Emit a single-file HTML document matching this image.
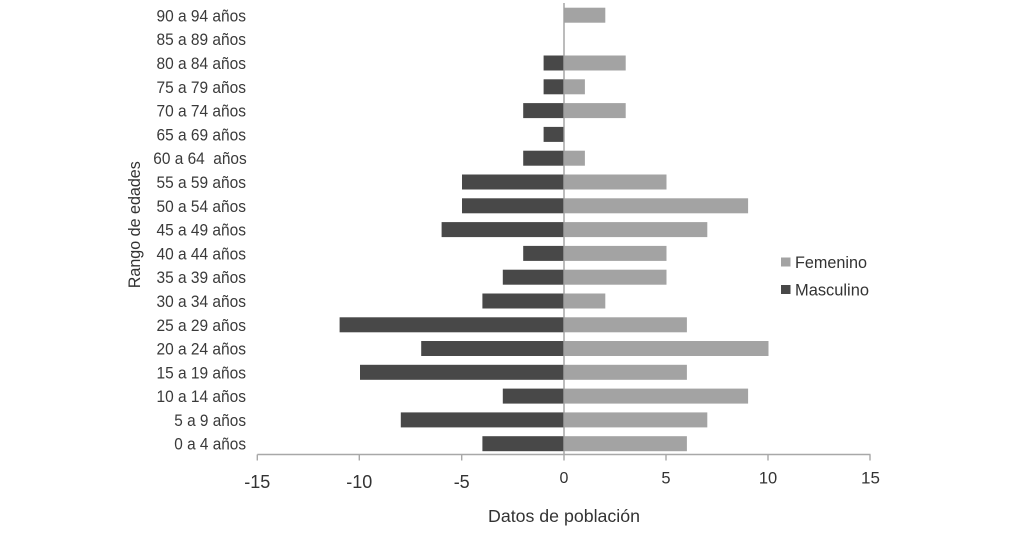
<!DOCTYPE html>
<html>
<head>
<meta charset="utf-8">
<style>
html,body{margin:0;padding:0;background:#fff;}
svg{display:block;}
text{font-family:"Liberation Sans",Arial,sans-serif;}
</style>
</head>
<body>
<svg width="1013" height="536" viewBox="0 0 1013 536" xmlns="http://www.w3.org/2000/svg">
<rect width="1013" height="536" fill="#fff"/>
<g fill="#484848">
<rect x="543.6" y="55.5" width="20.4" height="15"/>
<rect x="543.6" y="79.3" width="20.4" height="15"/>
<rect x="523.2" y="103.1" width="40.8" height="15"/>
<rect x="543.6" y="126.9" width="20.4" height="15"/>
<rect x="523.2" y="150.7" width="40.8" height="15"/>
<rect x="462" y="174.5" width="102" height="15"/>
<rect x="462" y="198.3" width="102" height="15"/>
<rect x="441.6" y="222.1" width="122.4" height="15"/>
<rect x="523.2" y="245.9" width="40.8" height="15"/>
<rect x="502.8" y="269.7" width="61.2" height="15"/>
<rect x="482.4" y="293.5" width="81.6" height="15"/>
<rect x="339.6" y="317.3" width="224.4" height="15"/>
<rect x="421.2" y="341.0" width="142.8" height="15"/>
<rect x="360" y="364.8" width="204" height="15"/>
<rect x="502.8" y="388.6" width="61.2" height="15"/>
<rect x="400.8" y="412.4" width="163.2" height="15"/>
<rect x="482.4" y="436.2" width="81.6" height="15"/>
</g>
<g fill="#a3a3a3">
<rect x="564.5" y="7.7" width="40.8" height="15"/>
<rect x="564.5" y="55.5" width="61.2" height="15"/>
<rect x="564.5" y="79.3" width="20.4" height="15"/>
<rect x="564.5" y="103.1" width="61.2" height="15"/>
<rect x="564.5" y="150.7" width="20.4" height="15"/>
<rect x="564.5" y="174.5" width="102" height="15"/>
<rect x="564.5" y="198.3" width="183.6" height="15"/>
<rect x="564.5" y="222.1" width="142.8" height="15"/>
<rect x="564.5" y="245.9" width="102" height="15"/>
<rect x="564.5" y="269.7" width="102" height="15"/>
<rect x="564.5" y="293.5" width="40.8" height="15"/>
<rect x="564.5" y="317.3" width="122.4" height="15"/>
<rect x="564.5" y="341.0" width="204" height="15"/>
<rect x="564.5" y="364.8" width="122.4" height="15"/>
<rect x="564.5" y="388.6" width="183.6" height="15"/>
<rect x="564.5" y="412.4" width="142.8" height="15"/>
<rect x="564.5" y="436.2" width="122.4" height="15"/>
</g>
<line x1="564" y1="3" x2="564" y2="455" stroke="#a0a0a0" stroke-width="1.4"/>
<g stroke="#a8a8a8" stroke-width="1.4">
<line x1="257.3" y1="454.5" x2="870.5" y2="454.5"/>
<line x1="257.3" y1="454.5" x2="257.3" y2="460.5"/>
<line x1="359.3" y1="454.5" x2="359.3" y2="460.5"/>
<line x1="461.7" y1="454.5" x2="461.7" y2="460.5"/>
<line x1="564" y1="454.5" x2="564" y2="460.5"/>
<line x1="666" y1="454.5" x2="666" y2="460.5"/>
<line x1="768" y1="454.5" x2="768" y2="460.5"/>
<line x1="870" y1="454.5" x2="870" y2="460.5"/>
</g>
<g fill="#333" text-anchor="middle">
<text x="257.3" y="488" font-size="18">-15</text>
<text x="359.3" y="488" font-size="18">-10</text>
<text x="461.7" y="488" font-size="18">-5</text>
<text x="564" y="483" font-size="16">0</text>
<text x="666" y="483.5" font-size="16.5">5</text>
<text x="768" y="483.5" font-size="16.5">10</text>
<text x="870.5" y="483.5" font-size="17">15</text>
</g>
<g fill="#3a3a3a" font-size="16.5" text-anchor="end" lengthAdjust="spacingAndGlyphs">
<text x="246" y="21.4" textLength="89.5" lengthAdjust="spacingAndGlyphs">90 a 94 años</text>
<text x="246" y="45.2" textLength="89.5" lengthAdjust="spacingAndGlyphs">85 a 89 años</text>
<text x="246" y="69.0" textLength="89.5" lengthAdjust="spacingAndGlyphs">80 a 84 años</text>
<text x="246" y="92.8" textLength="89.5" lengthAdjust="spacingAndGlyphs">75 a 79 años</text>
<text x="246" y="116.6" textLength="89.5" lengthAdjust="spacingAndGlyphs">70 a 74 años</text>
<text x="246" y="140.4" textLength="89.5" lengthAdjust="spacingAndGlyphs">65 a 69 años</text>
<text x="246.7" y="164.2" textLength="93.4" lengthAdjust="spacingAndGlyphs" style="white-space:pre">60 a 64&#160; años</text>
<text x="246" y="188.0" textLength="89.5" lengthAdjust="spacingAndGlyphs">55 a 59 años</text>
<text x="246" y="211.8" textLength="89.5" lengthAdjust="spacingAndGlyphs">50 a 54 años</text>
<text x="246" y="235.6" textLength="89.5" lengthAdjust="spacingAndGlyphs">45 a 49 años</text>
<text x="246" y="259.4" textLength="89.5" lengthAdjust="spacingAndGlyphs">40 a 44 años</text>
<text x="246" y="283.2" textLength="89.5" lengthAdjust="spacingAndGlyphs">35 a 39 años</text>
<text x="246" y="307.0" textLength="89.5" lengthAdjust="spacingAndGlyphs">30 a 34 años</text>
<text x="246" y="330.8" textLength="89.5" lengthAdjust="spacingAndGlyphs">25 a 29 años</text>
<text x="246" y="354.5" textLength="89.5" lengthAdjust="spacingAndGlyphs">20 a 24 años</text>
<text x="246" y="378.3" textLength="89.5" lengthAdjust="spacingAndGlyphs">15 a 19 años</text>
<text x="246" y="402.1" textLength="89.5" lengthAdjust="spacingAndGlyphs">10 a 14 años</text>
<text x="246" y="425.9" textLength="71.7" lengthAdjust="spacingAndGlyphs">5 a 9 años</text>
<text x="246" y="449.7" textLength="71.7" lengthAdjust="spacingAndGlyphs">0 a 4 años</text>
</g>
<text x="564" y="522" font-size="17.5" fill="#333" text-anchor="middle" textLength="152" lengthAdjust="spacingAndGlyphs">Datos de población</text>
<text transform="translate(140,224.7) rotate(-90)" x="0" y="0" font-size="16.5" fill="#333" text-anchor="middle" textLength="127" lengthAdjust="spacingAndGlyphs">Rango de edades</text>
<rect x="781" y="257.5" width="9.5" height="9" fill="#a3a3a3"/>
<text x="795" y="268" font-size="16.5" fill="#333" textLength="72" lengthAdjust="spacingAndGlyphs">Femenino</text>
<rect x="781" y="285" width="9.5" height="9" fill="#484848"/>
<text x="795" y="295.5" font-size="16.5" fill="#333" textLength="74" lengthAdjust="spacingAndGlyphs">Masculino</text>
</svg>
</body>
</html>
